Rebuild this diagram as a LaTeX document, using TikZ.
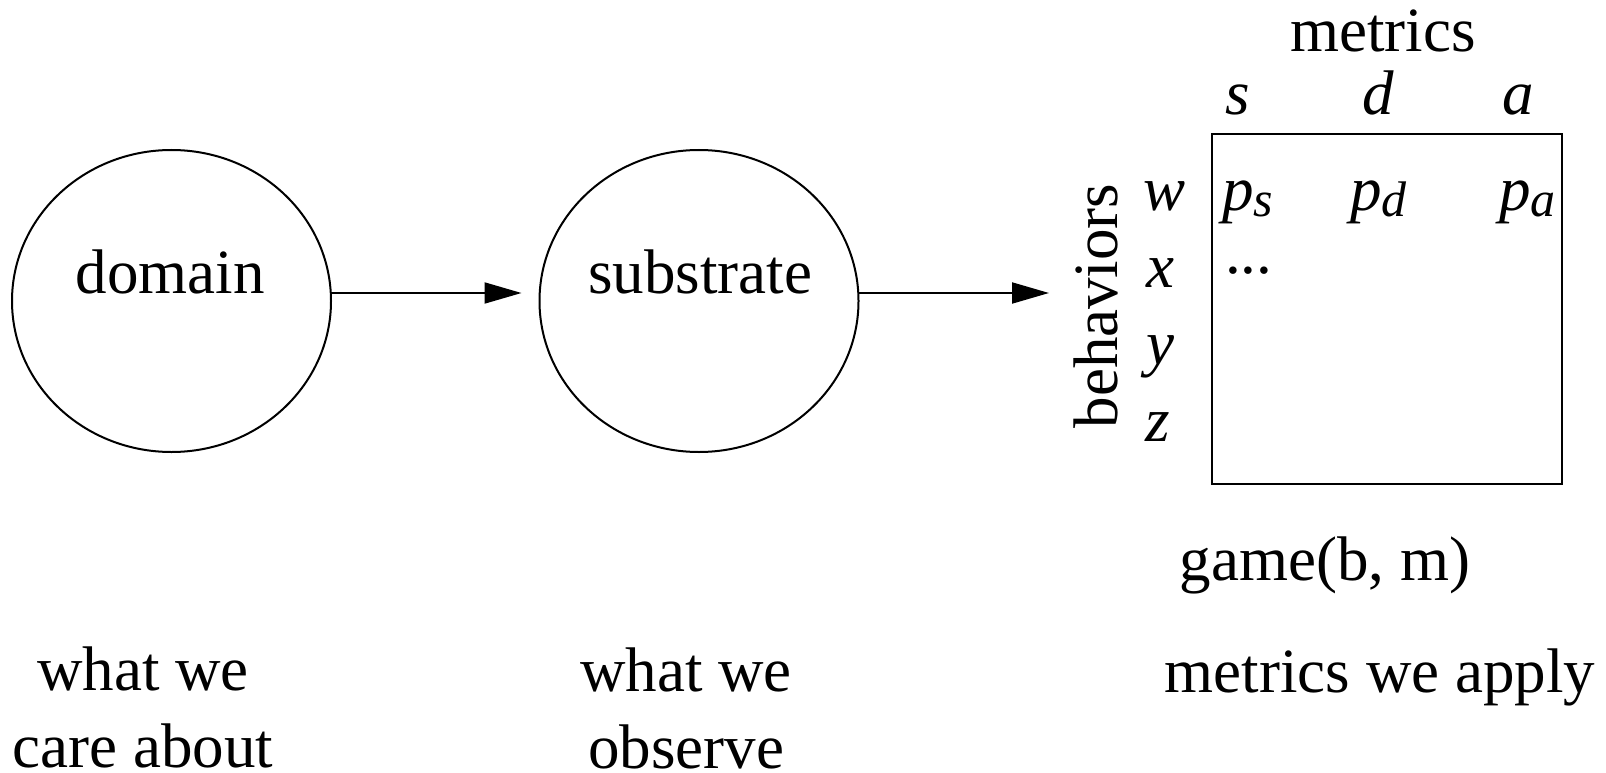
\documentclass[tikz,border=0pt]{standalone}
\usepackage{fontspec}
\setmainfont{Liberation Serif}
\usetikzlibrary{shapes.geometric,arrows.meta}
\begin{document}
\begin{tikzpicture}[x=1pt,y=-1pt,
  every node/.style={font=\fontsize{63}{77}\selectfont, inner sep=0pt, outer sep=0pt},
  circ/.style={ellipse, draw, line width=2pt, minimum width=319pt, minimum height=302pt},
  txt/.style={anchor=base},
  arr/.style={line width=2pt, -{Triangle[length=37pt,width=21pt]}},
  tbl/.style={draw, line width=2pt, minimum width=350pt, minimum height=350pt},
  cell/.style={anchor=base west}
]
\newcommand{\psub}[1]{\itshape p\raisebox{-6pt}{\fontsize{50}{55}\selectfont\itshape #1}}
\useasboundingbox (0,0) rectangle (1606,773);
% circles
\node[circ] (domain) at (171.5,301) {};
\node[txt] (domaintxt) at (170,293) {domain};
\node[circ] (substrate) at (699,301) {};
\node[txt] (substratetxt) at (700,293) {substrate};
% table
\node[tbl] (table) at (1387,309) {};
\node[txt] (metrics) at (1383,52) {metrics};
\node[txt] (cs) at (1238,115) {\itshape s};
\node[txt] (cd) at (1378,115) {\itshape d};
\node[txt] (ca) at (1518,115) {\itshape a};
\node[txt] (rw) at (1164,210) {\itshape w};
\node[txt] (rx) at (1160,287) {\itshape x};
\node[txt] (ry) at (1160,364) {\itshape y};
\node[txt] (rz) at (1158,441) {\itshape z};
\node[cell] (ps) at (1222,210) {\psub{s}};
\node[cell] (pd) at (1350,210) {\psub{d}};
\node[cell] (pa) at (1499,210) {\psub{a}};
\node[cell] (dots) at (1225,287) {\raisebox{14pt}{...}};
\node[anchor=base, rotate=90] (behav) at (1117,306) {behaviors};
\coordinate (tblin) at (1049,293);
% arrows
\draw[arr] ([yshift=8pt]domain.east) -- ([xshift=-18pt,yshift=8pt]substrate.west);
\draw[arr] ([yshift=8pt]substrate.east) -- (tblin);
% captions
\node[txt] (game) at (1325,580) {game(b, m)};
\node[txt] (cap1) at (143,690) {\begin{tabular}[t]{@{}c@{}}what we\\care about\end{tabular}};
\node[txt] (cap2) at (686,691) {\begin{tabular}[t]{@{}c@{}}what we\\observe\end{tabular}};
\node[txt] (cap3) at (1380,692) {metrics we apply};
\end{tikzpicture}
\end{document}
